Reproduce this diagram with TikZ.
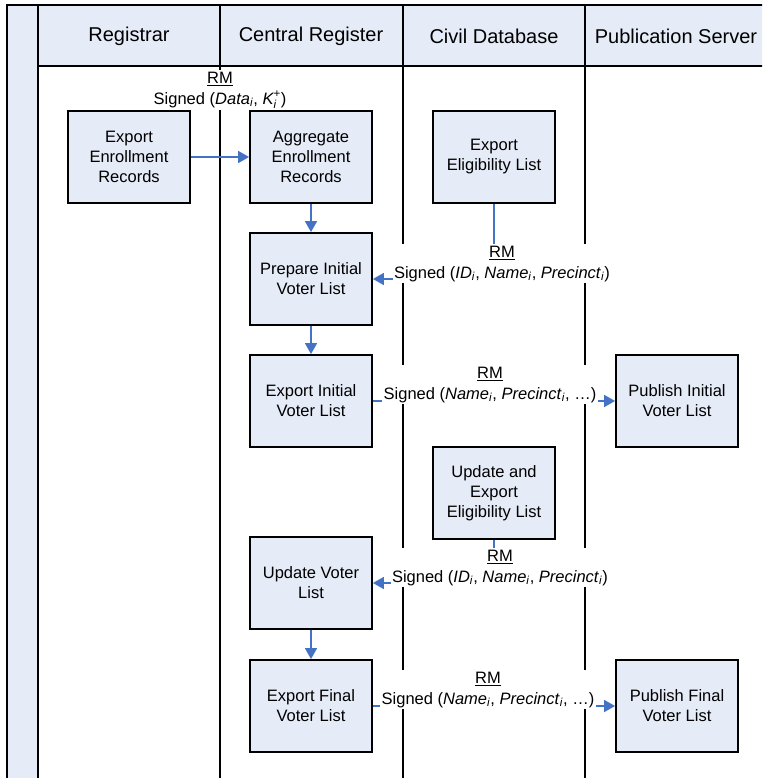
\documentclass[tikz,border=0pt]{standalone}
\usepackage{fontspec}
\usepackage{amsmath}
\setmainfont{Liberation Sans}
\usetikzlibrary{arrows.meta,positioning,calc}
\definecolor{ink}{RGB}{0,0,0}
\definecolor{lanefill}{RGB}{230,236,247}
\definecolor{flowblue}{RGB}{68,114,196}
\newcommand{\itsub}[2]{\textit{#1}\textsubscript{\textit{#2}}}
\tikzset{
  every picture/.style={color=ink, line width=1.8pt},
  lanehead/.style={font=\fontsize{20}{24}\selectfont, inner sep=0pt},
  task/.style={draw=ink, fill=lanefill, minimum width=122pt, minimum height=92pt, align=center, inner sep=2pt, font=\fontsize{16.5}{20}\selectfont},
  flow/.style={draw=flowblue, line width=1.6pt, -{Triangle[length=11pt,width=12pt]}},
  msg/.style={fill=white, align=center, inner sep=1.5pt, font=\fontsize{16.5}{21}\selectfont},
}
\begin{document}
\begin{tikzpicture}[x=1pt, y=-1pt]
  \useasboundingbox (0,0) rectangle (762,778);
  \clip (0,0) rectangle (762,778);
  % pool frame and lanes
  \fill[lanefill] (7,5) rectangle (38,790);
  \fill[lanefill] (38,5) rectangle (770,66);
  \draw (7,790) -- (7,5) -- (770,5);
  \draw (38,66) -- (770,66);
  \foreach \x in {38,220,403,585} { \draw (\x,5) -- (\x,790); }
  \foreach \n/\x/\t in {hreg/129/Registrar, hcen/311/Central Register, hciv/494/Civil Database, hpub/676/Publication Server}
    { \node[lanehead] (\n) at (\x,36) {\t}; }
  % tasks
  \node[task] (enr) at (129,157) {Export\\ Enrollment\\ Records};
  \node[task] (agg) at (311,157) {Aggregate\\ Enrollment\\ Records};
  \node[task] (elig) at (494,157) {Export\\ Eligibility List};
  \node[task] (prep) at (311,279) {Prepare Initial\\ Voter List};
  \node[task] (expini) at (311,401) {Export Initial\\ Voter List};
  \node[task] (pubini) at (677,401) {Publish Initial\\ Voter List};
  \node[task] (upelig) at (494,493) {Update and\\ Export\\ Eligibility List};
  \node[task] (upvot) at (311,583) {Update Voter\\ List};
  \node[task] (expfin) at (311,706) {Export Final\\ Voter List};
  \node[task] (pubfin) at (677,706) {Publish Final\\ Voter List};
  % flows
  \draw[flow] (enr) -- (agg);
  \node[msg, anchor=south] (m1) at ($(enr.east)!0.5!(agg.west)+(0,-46)$) {\underline{RM}\\ Signed (\itsub{Data}{i}, $\textit{K}_{\text{\itshape i}}^{\text{+}}$)};
  \draw[flow] (agg) -- (prep);
  \draw[flow] (elig.south) |- node[msg, pos=0.5, anchor=south, xshift=8pt, yshift=-5pt] (m2) {\underline{RM}\\ Signed (\itsub{ID}{i}, \itsub{Name}{i}, \itsub{Precinct}{i})} (prep.east);
  \draw[flow] (prep) -- (expini);
  \draw[flow] (expini) -- node[msg, anchor=south, xshift=-4pt, yshift=-4pt] (m3) {\underline{RM}\\ Signed (\itsub{Name}{i}, \itsub{Precinct}{i}, …)} (pubini);
  \draw[flow] (upelig.south) |- node[msg, pos=0.5, anchor=south, xshift=6pt, yshift=-5pt] (m4) {\underline{RM}\\ Signed (\itsub{ID}{i}, \itsub{Name}{i}, \itsub{Precinct}{i})} (upvot.east);
  \draw[flow] (upvot) -- (expfin);
  \draw[flow] (expfin) -- node[msg, anchor=south, xshift=-6pt, yshift=-4pt] (m5) {\underline{RM}\\ Signed (\itsub{Name}{i}, \itsub{Precinct}{i}, …)} (pubfin);
\end{tikzpicture}
\end{document}
